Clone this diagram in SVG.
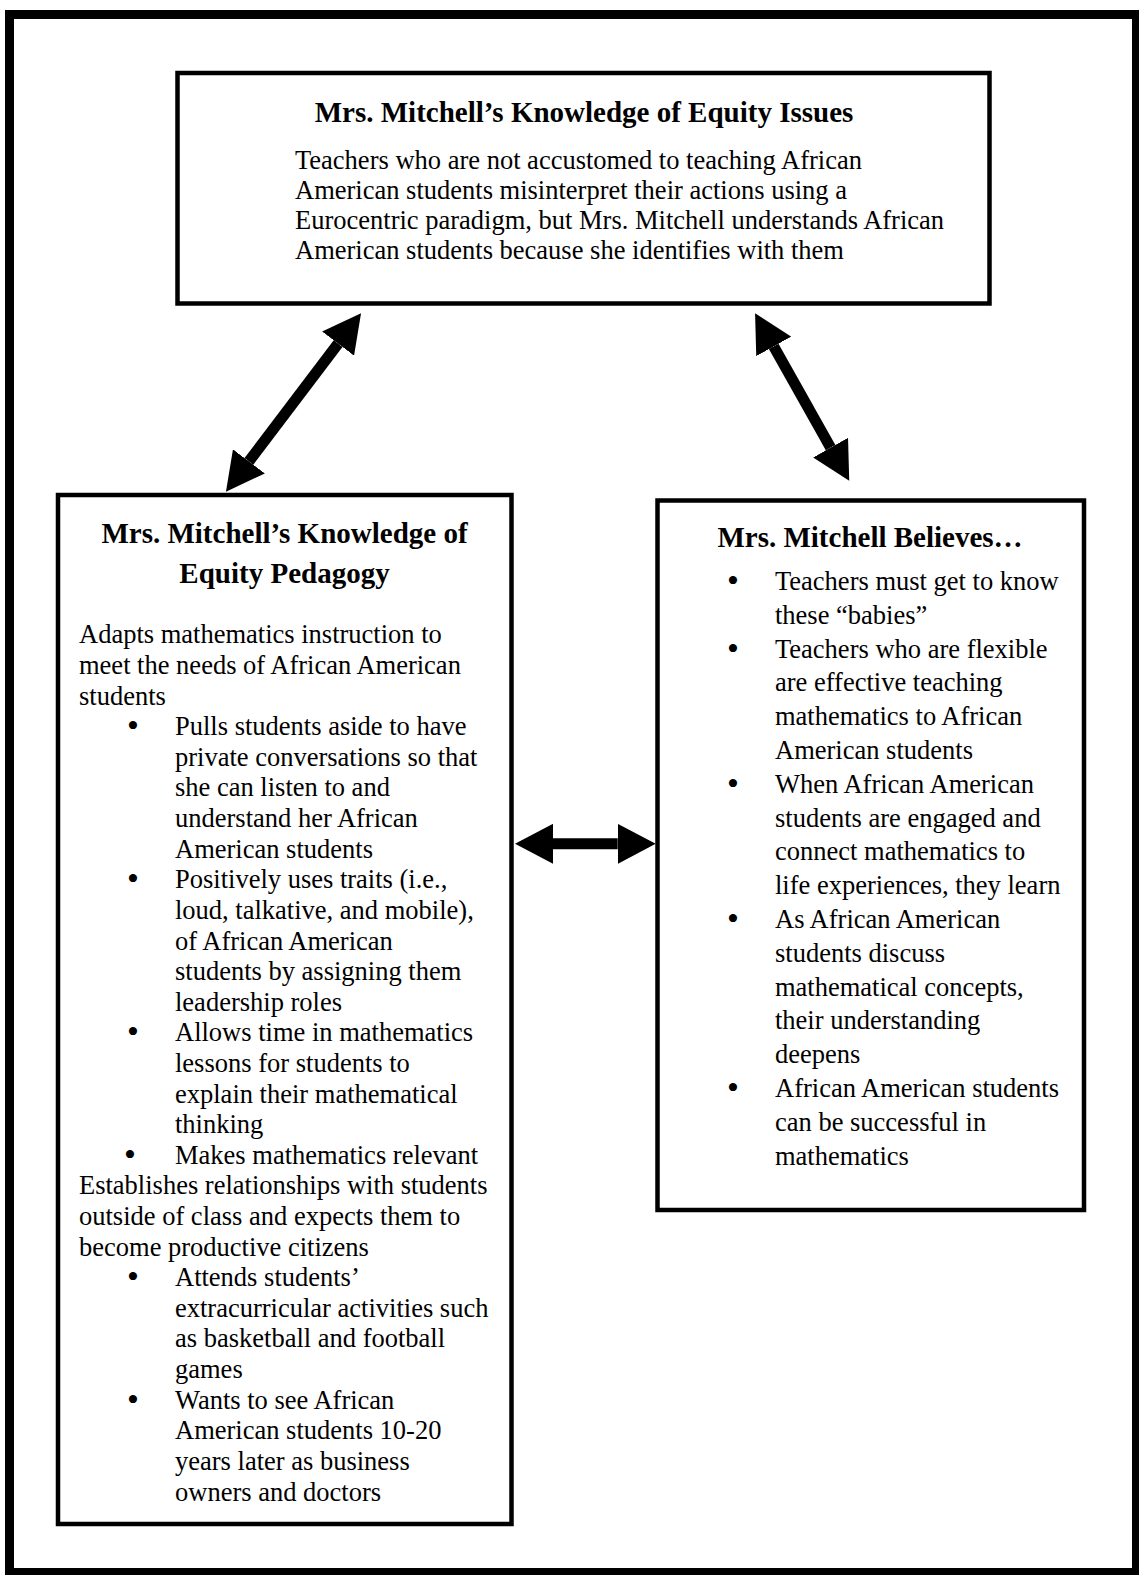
<svg xmlns="http://www.w3.org/2000/svg" width="1139" height="1575" viewBox="0 0 1139 1575">
  <style>
    .frame { fill: none; stroke: #000; stroke-width: 9; }
    .box { fill: #fff; stroke: #000; stroke-width: 4.5; }
    .title { font-family: "Liberation Serif", "Times New Roman", serif; font-size: 29px; font-weight: bold; fill: #000; text-anchor: middle; }
    .body { font-family: "Liberation Serif", "Times New Roman", serif; font-size: 26.5px; fill: #000; }
    .dot { font-family: "Liberation Serif", "Times New Roman", serif; font-size: 34px; fill: #000; }
    .link { stroke: #000; stroke-width: 11; fill: none; marker-start: url(#head); marker-end: url(#head); }
  </style>
  <defs>
    <marker id="head" viewBox="0 0 38 40" refX="0" refY="20" markerWidth="38" markerHeight="40" markerUnits="userSpaceOnUse" orient="auto-start-reverse">
      <path d="M0,0 L38,20 L0,40 Z" fill="#000"/>
    </marker>
  </defs>

  <rect width="1139" height="1575" fill="#fff"/>
  <rect class="frame" x="9.5" y="14.5" width="1127" height="1558"/>

  <!-- Equity issues -->
  <g id="equity-issues">
    <rect class="box" x="177.5" y="73" width="812" height="230.5"/>
    <text class="title" x="584" y="121.7">Mrs. Mitchell’s Knowledge of Equity Issues</text>
    <text class="body" x="295" y="168.5">Teachers who are not accustomed to teaching African</text>
    <text class="body" x="295" y="198.8">American students misinterpret their actions using a</text>
    <text class="body" x="295" y="229.1">Eurocentric paradigm, but Mrs. Mitchell understands African</text>
    <text class="body" x="295" y="259.4">American students because she identifies with them</text>
  </g>

  <!-- Equity pedagogy -->
  <g id="equity-pedagogy">
    <rect class="box" x="58" y="495" width="453.5" height="1029"/>
    <text class="title" x="284.5" y="543.3">Mrs. Mitchell’s Knowledge of</text>
    <text class="title" x="284.5" y="583.3">Equity Pedagogy</text>
    <text class="body" x="79" y="643.3">Adapts mathematics instruction to</text>
    <text class="body" x="79" y="673.9">meet the needs of African American</text>
    <text class="body" x="79" y="704.5">students</text>
    <text class="dot" x="127" y="737.2">•</text>
    <text class="body" x="175" y="735.2">Pulls students aside to have</text>
    <text class="body" x="175" y="765.8">private conversations so that</text>
    <text class="body" x="175" y="796.4">she can listen to and</text>
    <text class="body" x="175" y="827.0">understand her African</text>
    <text class="body" x="175" y="857.6">American students</text>
    <text class="dot" x="127" y="890.2">•</text>
    <text class="body" x="175" y="888.2">Positively uses traits (i.e.,</text>
    <text class="body" x="175" y="918.8">loud, talkative, and mobile),</text>
    <text class="body" x="175" y="949.5">of African American</text>
    <text class="body" x="175" y="980.1">students by assigning them</text>
    <text class="body" x="175" y="1010.7">leadership roles</text>
    <text class="dot" x="127" y="1043.3">•</text>
    <text class="body" x="175" y="1041.3">Allows time in mathematics</text>
    <text class="body" x="175" y="1071.9">lessons for students to</text>
    <text class="body" x="175" y="1102.5">explain their mathematical</text>
    <text class="body" x="175" y="1133.1">thinking</text>
    <text class="dot" x="124" y="1165.7">•</text>
    <text class="body" x="175" y="1163.7">Makes mathematics relevant</text>
    <text class="body" x="79" y="1194.4">Establishes relationships with students</text>
    <text class="body" x="79" y="1225.0">outside of class and expects them to</text>
    <text class="body" x="79" y="1255.6">become productive citizens</text>
    <text class="dot" x="127" y="1288.2">•</text>
    <text class="body" x="175" y="1286.2">Attends students’</text>
    <text class="body" x="175" y="1316.8">extracurricular activities such</text>
    <text class="body" x="175" y="1347.4">as basketball and football</text>
    <text class="body" x="175" y="1378.0">games</text>
    <text class="dot" x="127" y="1410.6">•</text>
    <text class="body" x="175" y="1408.6">Wants to see African</text>
    <text class="body" x="175" y="1439.3">American students 10-20</text>
    <text class="body" x="175" y="1469.9">years later as business</text>
    <text class="body" x="175" y="1500.5">owners and doctors</text>
  </g>

  <!-- Beliefs -->
  <g id="beliefs">
    <rect class="box" x="657.5" y="500.5" width="426.5" height="709.5"/>
    <text class="title" x="870" y="546.7">Mrs. Mitchell Believes…</text>
    <text class="dot" x="727" y="592">•</text>
    <text class="body" x="775" y="590">Teachers must get to know</text>
    <text class="body" x="775" y="623.8">these “babies”</text>
    <text class="dot" x="727" y="659.6">•</text>
    <text class="body" x="775" y="657.6">Teachers who are flexible</text>
    <text class="body" x="775" y="691.4">are effective teaching</text>
    <text class="body" x="775" y="725.2">mathematics to African</text>
    <text class="body" x="775" y="759">American students</text>
    <text class="dot" x="727" y="794.8">•</text>
    <text class="body" x="775" y="792.8">When African American</text>
    <text class="body" x="775" y="826.6">students are engaged and</text>
    <text class="body" x="775" y="860.4">connect mathematics to</text>
    <text class="body" x="775" y="894.2">life experiences, they learn</text>
    <text class="dot" x="727" y="930">•</text>
    <text class="body" x="775" y="928">As African American</text>
    <text class="body" x="775" y="961.8">students discuss</text>
    <text class="body" x="775" y="995.6">mathematical concepts,</text>
    <text class="body" x="775" y="1029.4">their understanding</text>
    <text class="body" x="775" y="1063.2">deepens</text>
    <text class="dot" x="727" y="1099">•</text>
    <text class="body" x="775" y="1097">African American students</text>
    <text class="body" x="775" y="1130.8">can be successful in</text>
    <text class="body" x="775" y="1164.6">mathematics</text>
  </g>

  <!-- Two-way links between the boxes -->
  <g id="connectors">
    <line class="link" x1="338.1" y1="343.6" x2="248.9" y2="461.4"/>
    <line class="link" x1="773.7" y1="346.4" x2="830.6" y2="447.6"/>
    <line class="link" x1="553" y1="843.8" x2="617.7" y2="843.8"/>
  </g>
</svg>
